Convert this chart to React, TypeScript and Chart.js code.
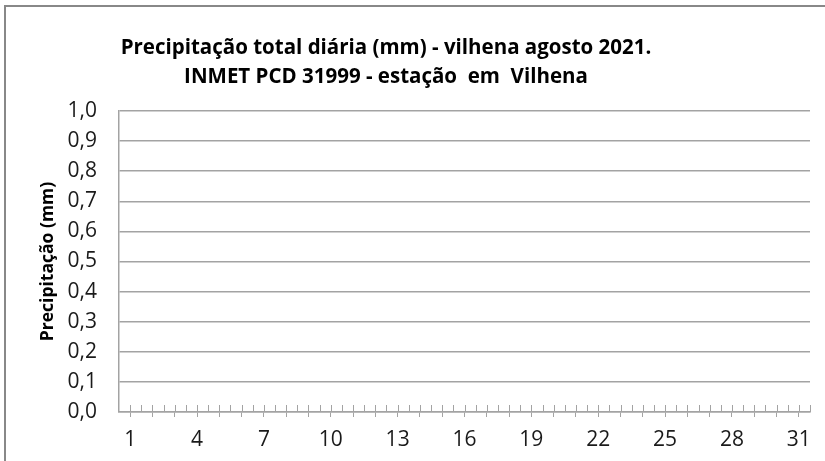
import React, { useEffect, useRef } from "react";
import { Chart, registerables } from "chart.js";

Chart.register(...registerables);

const days: string[] = Array.from({ length: 31 }, (_, i) => String(i + 1));
const precipitation: number[] = [
  0, 0, 0, 0, 0, 0, 0, 0, 0, 0, 0, 0, 0, 0, 0, 0,
  0, 0, 0, 0, 0, 0, 0, 0, 0, 0, 0, 0, 0, 0, 0,
];
const titleLines: string[] = [
  "Precipitação total diária (mm) - vilhena agosto 2021.",
  "INMET PCD 31999 - estação  em  Vilhena",
];
const yTitle = "Precipitação (mm)";
const yMin = 0;
const yMax = 1;
const yStep = 0.1;

const GRID = "#a3a3a3";
const FONT = "'Open Sans', 'DejaVu Sans', sans-serif";

const tickPlugin = {
  id: "xTickMarks",
  afterDraw(chart: any) {
    const xs = chart.scales.x;
    const ctx = chart.ctx;
    const y = xs.top;
    ctx.save();
    ctx.strokeStyle = GRID;
    ctx.lineWidth = 1;
    ctx.beginPath();
    for (let i = 0; i < days.length; i++) {
      const c = Math.round(xs.getPixelForValue(i)) + 0.5;
      ctx.moveTo(c, y - 7);
      ctx.lineTo(c, y);
    }
    for (let i = 1; i <= days.length; i++) {
      const b = Math.round(xs.getPixelForValue(i - 0.5)) + 0.5;
      ctx.moveTo(b, y - 7);
      ctx.lineTo(b, y);
    }
    ctx.stroke();
    ctx.restore();
  },
};

export default function App() {
  const ref = useRef<HTMLCanvasElement | null>(null);

  useEffect(() => {
    if (!ref.current) return;
    const chart = new Chart(ref.current, {
      type: "bar",
      data: {
        labels: days,
        datasets: [
          {
            label: "Precipitação",
            data: precipitation,
            backgroundColor: "#4f81bd",
          },
        ],
      },
      options: {
        animation: false,
        responsive: false,
        maintainAspectRatio: false,
        layout: { padding: { left: 0, right: 15, top: 111, bottom: 0 } },
        plugins: {
          legend: { display: false },
          tooltip: { enabled: false },
          title: { display: false },
        },
        scales: {
          x: {
            offset: true,
            grid: {
              offset: false,
              drawOnChartArea: false,
              drawTicks: true,
              tickLength: 5,
              color: GRID,
            },
            border: { color: GRID, width: 1.5 },
            ticks: {
              autoSkip: false,
              maxRotation: 0,
              padding: 10,
              color: "#1a1a1a",
              font: { family: FONT, size: 21 },
              callback: (_v: any, i: number) => (i % 3 === 0 ? days[i] : ""),
            },
            afterFit: (s: any) => {
              s.height = 49;
            },
          },
          y: {
            min: yMin,
            max: yMax,
            grid: { color: GRID, lineWidth: 1.5, drawTicks: false },
            border: { color: GRID, width: 1.5 },
            ticks: {
              stepSize: yStep,
              padding: 22,
              color: "#1a1a1a",
              font: { family: FONT, size: 21 },
              callback: (v: any) => Number(v).toFixed(1).replace(".", ","),
            },
            title: {
              display: true,
              text: yTitle,
              color: "#000",
              font: { family: FONT, size: 17.5, weight: "bold" },
              padding: { top: 38, bottom: 0 },
            },
            afterFit: (s: any) => {
              s.width = 119;
            },
          },
        },
      },
      plugins: [tickPlugin],
    });
    return () => chart.destroy();
  }, []);

  return (
    <div
      style={{
        position: "fixed",
        left: 0,
        top: 0,
        width: 825,
        height: 461,
        background: "#fff",
        overflow: "hidden",
      }}
    >
      <div
        style={{
          position: "absolute",
          left: 4,
          top: 5,
          width: 821,
          height: 456,
          borderTop: "2px solid #888",
          borderLeft: "2px solid #888",
          boxSizing: "border-box",
        }}
      />
      <canvas
        ref={ref}
        width={825}
        height={461}
        style={{ position: "absolute", left: 0, top: 0 }}
      />
      <div
        style={{
          position: "absolute",
          left: 386 - 350,
          top: 32,
          width: 700,
          textAlign: "center",
          fontFamily: FONT,
          fontWeight: "bold",
          fontSize: 20.5,
          lineHeight: "29px",
          color: "#000",
          whiteSpace: "pre",
        }}
      >
        {titleLines.map((t, i) => (
          <div key={i}>{t}</div>
        ))}
      </div>
    </div>
  );
}
